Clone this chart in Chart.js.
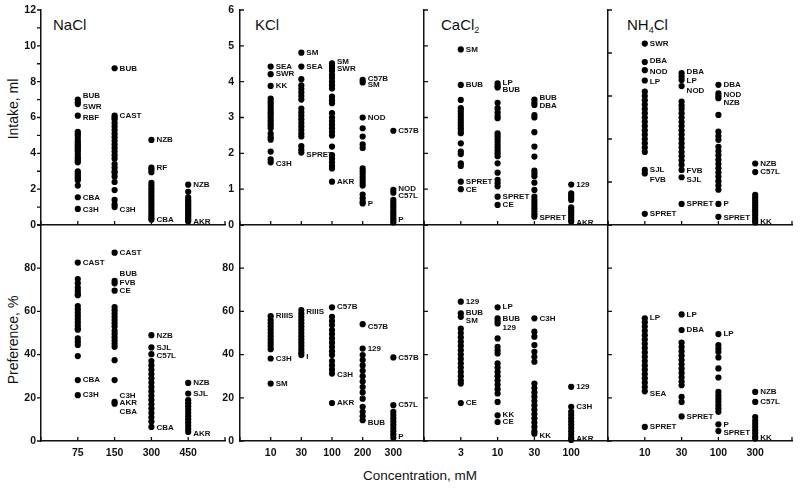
<!DOCTYPE html>
<html>
<head>
<meta charset="utf-8">
<script src="https://cdn.jsdelivr.net/npm/chart.js@4.4.1/dist/chart.umd.min.js"></script>
<style>
  body { margin: 0; background: #fff; }
  #wrap { position: relative; width: 800px; height: 489px; overflow: hidden;
          font-family: "Liberation Sans", Arial, sans-serif; color: #111; }
  #wrap canvas { position: absolute; }
  .ttl { position: absolute; font-size: 15px; line-height: 15px; white-space: nowrap; }
  .ttl sub { font-size: 9px; vertical-align: -3px; line-height: 0; }
  .ax { position: absolute; font-size: 14px; line-height: 14px; white-space: nowrap; }
</style>
</head>
<body>
<div id="wrap">
  <div class="ttl" style="left:53px;top:17px">NaCl</div>
  <div class="ttl" style="left:255px;top:17px">KCl</div>
  <div class="ttl" style="left:441px;top:17px">CaCl<sub>2</sub></div>
  <div class="ttl" style="left:627px;top:17px">NH<sub>4</sub>Cl</div>
  <div class="ax" style="left:13px;top:109px;transform:translate(-50%,-50%) rotate(-90deg)">Intake, ml</div>
  <div class="ax" style="left:13px;top:340px;transform:translate(-50%,-50%) rotate(-90deg)">Preference, %</div>
  <div class="ax" style="left:420px;top:476px;font-size:13.5px;transform:translate(-50%,-50%)">Concentration, mM</div>
</div>
<script>
// concentrations (mM) per salt
const naclConc = ['75', '150', '300', '450'];
const kclConc = ['10', '30', '100', '200', '300'];
const cacl2Conc = ['3', '10', '30', '100'];
const nh4clConc = ['10', '30', '100', '300'];

// intake, one list of strain means per concentration
const naclIntake = [
  [7.0, 6.85, 6.75, 6.1, 5.2, 5.1, 5.0, 4.85, 4.7, 4.6, 4.5, 4.4, 4.3, 4.2, 4.1, 3.95, 3.8, 3.7, 3.6, 3.5, 3.0, 2.9, 2.8, 2.7, 2.6, 2.5, 2.2, 1.55, 0.9],
  [8.75, 6.1, 6.0, 5.9, 5.7, 5.5, 5.3, 5.1, 4.9, 4.7, 4.5, 4.3, 4.1, 3.9, 3.7, 3.4, 3.2, 3.0, 2.9, 2.7, 2.4, 1.95, 1.4, 1.15, 1.0],
  [4.75, 3.2, 3.1, 2.95, 2.35, 2.2, 2.05, 1.9, 1.75, 1.6, 1.45, 1.3, 1.15, 1.0, 0.85, 0.7, 0.55, 0.4, 0.3],
  [2.25, 1.85, 1.55, 1.4, 1.3, 1.2, 1.1, 1.0, 0.9, 0.8, 0.7, 0.6, 0.5, 0.4, 0.3, 0.2]
];
const kclIntake = [
  [4.42, 4.21, 3.88, 3.53, 3.45, 3.38, 3.3, 3.22, 3.15, 3.08, 3.0, 2.92, 2.85, 2.78, 2.7, 2.55, 2.45, 2.38, 2.05, 1.83, 1.75],
  [4.81, 4.42, 4.07, 3.9, 3.8, 3.7, 3.6, 3.5, 3.25, 3.15, 3.05, 2.95, 2.85, 2.75, 2.65, 2.55, 2.47, 2.2, 2.1, 2.02],
  [4.51, 4.45, 4.38, 4.3, 4.19, 4.1, 4.0, 3.9, 3.81, 3.58, 3.48, 3.4, 3.12, 3.0, 2.9, 2.8, 2.7, 2.6, 2.5, 2.19, 1.95, 1.85, 1.75, 1.65, 1.58, 1.21],
  [4.05, 3.98, 3.0, 2.7, 2.47, 2.25, 2.15, 1.58, 1.5, 1.42, 1.34, 1.26, 1.18, 1.1, 0.85, 0.75, 0.65, 0.6],
  [2.63, 0.98, 0.9, 0.7, 0.62, 0.55, 0.48, 0.4, 0.33, 0.26, 0.19, 0.12, 0.07]
];
const cacl2Intake = [
  [4.9, 3.91, 3.49, 3.26, 3.18, 3.1, 3.02, 2.94, 2.86, 2.78, 2.7, 2.62, 2.56, 2.28, 2.05, 1.98, 1.72, 1.65, 1.21, 1.0],
  [3.95, 3.88, 3.84, 3.41, 3.26, 3.15, 3.05, 2.98, 2.56, 2.48, 2.4, 2.32, 2.24, 2.16, 2.08, 2.0, 1.92, 1.72, 1.46, 1.26, 1.17, 1.08, 0.79, 0.56],
  [3.5, 3.42, 3.35, 3.07, 3.0, 2.59, 2.19, 1.91, 1.52, 1.44, 1.36, 1.18, 0.98, 0.79, 0.7, 0.62, 0.54, 0.46, 0.38, 0.3, 0.23],
  [1.13, 0.88, 0.82, 0.76, 0.7, 0.49, 0.42, 0.35, 0.28, 0.21, 0.14, 0.09]
];
const nh4clIntake = [
  [4.22, 3.79, 3.6, 3.36, 3.1, 3.0, 2.9, 2.8, 2.7, 2.6, 2.5, 2.4, 2.3, 2.2, 2.1, 2.0, 1.9, 1.8, 1.7, 1.28, 1.2, 0.26],
  [3.53, 3.45, 3.37, 3.23, 2.87, 2.78, 2.7, 2.6, 2.5, 2.4, 2.3, 2.2, 2.1, 2.0, 1.9, 1.8, 1.7, 1.6, 1.5, 1.4, 1.28, 1.11, 0.49],
  [3.26, 3.06, 3.0, 2.95, 2.56, 2.17, 2.07, 1.98, 1.82, 1.72, 1.62, 1.52, 1.42, 1.32, 1.22, 1.12, 1.02, 0.92, 0.82, 0.49, 0.19],
  [1.43, 1.23, 0.7, 0.64, 0.58, 0.52, 0.46, 0.4, 0.34, 0.28, 0.22, 0.16, 0.1, 0.06]
];

// preference, %
const naclPref = [
  [82.6, 75, 73, 71, 69.5, 68, 67.5, 62.5, 61, 59.5, 58, 56.5, 55, 53.5, 52, 51.5, 47.5, 46, 44.5, 39.3, 28.2, 21.2],
  [87.2, 74.2, 73, 69.6, 62, 60.5, 59, 57.5, 56, 54.5, 53, 51, 49.5, 48, 46.5, 45, 43.6, 37.4, 28.2, 18.1, 17.3],
  [49, 43.3, 40.2, 37, 35, 33, 31, 29, 27, 25, 23, 21, 19, 17, 15, 13, 11, 9, 6.5],
  [26.9, 22, 18.9, 17.5, 16, 14.5, 13, 11.5, 10, 8.5, 7, 5.5, 4.2]
];
const kclPref = [
  [57.8, 56, 54.5, 53, 51.5, 50, 48.5, 47, 45.5, 44, 42.5, 38.2, 26.6],
  [60.6, 59, 57.5, 56, 54.5, 53, 51.5, 50, 48.5, 47, 45.5, 44, 42.5, 41, 39.8],
  [61.9, 57.5, 55.5, 53.7, 51.4, 49.5, 47.5, 45.5, 43.5, 41.5, 39.8, 37, 35, 33, 31.2, 17.6],
  [54.1, 42.8, 39.8, 37.5, 35, 32.5, 30, 27.5, 25, 22.5, 19.6, 15.8, 13.5, 11.5, 9.6],
  [38.7, 16.6, 13.5, 12, 10.5, 9, 7.5, 6, 4.5, 3, 1.5]
];
const cacl2Pref = [
  [64.5, 59.1, 57.5, 52, 50, 48, 46, 44, 42, 40, 38, 36, 34, 32, 30, 28, 26.6, 17.6],
  [61.9, 56.8, 55.5, 54.4, 47.5, 43.6, 42, 40.5, 35.9, 34, 32, 30, 28, 26, 24, 22, 18.1, 11.9, 8.8],
  [56.8, 50.6, 48.3, 44.4, 41.3, 39, 36.7, 26.6, 24.5, 22.5, 20.5, 18.5, 16.5, 14.5, 12.5, 10.5, 8.5, 6.5, 4.5, 3.4],
  [25.1, 15.8, 13.5, 12, 10.5, 9, 7.5, 6, 4.5, 3, 1.5, 0.5]
];
const nh4clPref = [
  [56.8, 55, 53, 51, 49, 47, 45, 43, 41, 39, 37, 35, 33, 31, 29, 27, 25, 23, 6.5],
  [58.6, 51.4, 45.5, 43.5, 41.5, 39.5, 37.5, 35.5, 33.5, 31.5, 29.5, 27.5, 25.8, 20.4, 18.1, 11.4],
  [49.5, 44.4, 42.8, 41.3, 38.7, 33.6, 29.4, 22.7, 21, 19.5, 18, 16.5, 15, 13.5, 7.7, 4.6],
  [22.7, 18.1, 11.1, 9.5, 8, 6.5, 5, 3.5, 2, 1.1]
];

// strain tags: [concentration number (1-based), value, name]
const naclIntakeTags = [[1, 7.2, 'BUB'], [1, 6.57, 'SWR'], [1, 6.0, 'RBF'], [1, 1.54, 'CBA'], [1, 0.84, 'C3H'],
  [2, 8.72, 'BUB'], [2, 6.1, 'CAST'], [2, 0.87, 'C3H'], [3, 4.75, 'NZB'], [3, 3.2, 'RF'], [3, 0.3, 'CBA'],
  [4, 2.25, 'NZB'], [4, 0.2, 'AKR']];
const kclIntakeTags = [[1, 4.42, 'SEA'], [1, 4.21, 'SWR'], [1, 3.88, 'KK'], [1, 1.72, 'C3H'],
  [2, 4.81, 'SM'], [2, 4.42, 'SEA'], [2, 1.95, 'SPRET'], [3, 4.56, 'SM'], [3, 4.35, 'SWR'], [3, 1.21, 'AKR'],
  [4, 4.09, 'C57B'], [4, 3.91, 'SM'], [4, 3.0, 'NOD'], [4, 0.59, 'P'],
  [5, 2.63, 'C57B'], [5, 1.02, 'NOD'], [5, 0.81, 'C57L'], [5, 0.14, 'P']];
const cacl2IntakeTags = [[1, 4.9, 'SM'], [1, 3.91, 'BUB'], [1, 1.21, 'SPRET'], [1, 0.99, 'CE'],
  [2, 3.98, 'LP'], [2, 3.78, 'BUB'], [2, 0.79, 'SPRET'], [2, 0.55, 'CE'],
  [3, 3.55, 'BUB'], [3, 3.33, 'DBA'], [3, 0.19, 'SPRET'], [4, 1.13, '129'], [4, 0.07, 'AKR']];
const nh4clIntakeTags = [[1, 4.22, 'SWR'], [1, 3.82, 'DBA'], [1, 3.57, 'NOD'], [1, 3.34, 'LP'], [1, 1.29, 'SJL'], [1, 1.05, 'FVB'], [1, 0.26, 'SPRET'],
  [2, 3.57, 'DBA'], [2, 3.35, 'LP'], [2, 3.12, 'NOD'], [2, 1.26, 'FVB'], [2, 1.05, 'SJL'], [2, 0.49, 'SPRET'],
  [3, 3.26, 'DBA'], [3, 3.03, 'NOD'], [3, 2.85, 'NZB'], [3, 0.49, 'P'], [3, 0.17, 'SPRET'],
  [4, 1.43, 'NZB'], [4, 1.23, 'C57L'], [4, 0.08, 'KK']];

const naclPrefTags = [[1, 82.5, 'CAST'], [1, 28.2, 'CBA'], [1, 21.2, 'C3H'],
  [2, 87.2, 'CAST'], [2, 77.5, 'BUB'], [2, 73.2, 'FVB'], [2, 69.6, 'CE'], [2, 21, 'C3H'], [2, 17.5, 'AKR'], [2, 13.6, 'CBA'],
  [3, 48.5, 'NZB'], [3, 43.3, 'SJL'], [3, 39.5, 'C57L'], [3, 6, 'CBA'], [4, 26.9, 'NZB'], [4, 22, 'SJL'], [4, 3.5, 'AKR']];
const kclPrefTags = [[1, 57.8, 'RIIIS'], [1, 38, 'C3H'], [1, 26.6, 'SM'], [2, 60, 'RIIIS'], [2, 39, 'I'],
  [3, 61.9, 'C57B'], [3, 30.5, 'C3H'], [3, 17.6, 'AKR'], [4, 53, 'C57B'], [4, 42.8, '129'], [4, 8.5, 'BUB'],
  [5, 38.7, 'C57B'], [5, 16.6, 'C57L'], [5, 2, 'P']];
const cacl2PrefTags = [[1, 64.5, '129'], [1, 59.5, 'BUB'], [1, 55.5, 'SM'], [1, 17.6, 'CE'],
  [2, 61.9, 'LP'], [2, 56.5, 'BUB'], [2, 52.5, '129'], [2, 11.9, 'KK'], [2, 8.8, 'CE'],
  [3, 56.8, 'C3H'], [3, 2.6, 'KK'], [4, 25, '129'], [4, 15.8, 'C3H'], [4, 1, 'AKR']];
const nh4clPrefTags = [[1, 57, 'LP'], [1, 22, 'SEA'], [1, 6.5, 'SPRET'], [2, 58.6, 'LP'], [2, 51.4, 'DBA'], [2, 11.4, 'SPRET'],
  [3, 49.5, 'LP'], [3, 7.7, 'P'], [3, 4, 'SPRET'], [4, 22.7, 'NZB'], [4, 18.1, 'C57L'], [4, 1.5, 'KK']];

const FONT = '"Liberation Sans", Arial, sans-serif';
const YW = 34, PT = 8, PR = 14, XH = 26;

const tagPlugin = {
  id: 'tags',
  afterDatasetsDraw(chart, args, opts) {
    const { ctx } = chart, xs = chart.scales.x, ys = chart.scales.y;
    ctx.save();
    ctx.font = 'bold 8px ' + FONT;
    ctx.fillStyle = '#111';
    ctx.textBaseline = 'middle';
    (opts.list || []).forEach(([c, v, t]) => {
      ctx.fillText(t, xs.getPixelForValue(c) + 5, ys.getPixelForValue(v));
    });
    ctx.restore();
  }
};

// tick marks (inward, or outward for NaCl y) and y tick labels from the scales' ticks
const axisMarks = {
  id: 'axisMarks',
  afterDraw(chart, args, opts) {
    const { ctx, chartArea: a } = chart, xs = chart.scales.x, ys = chart.scales.y;
    ctx.save();
    ctx.strokeStyle = '#111';
    ctx.lineWidth = 1.3;
    ctx.beginPath();
    xs.ticks.forEach(t => {
      const p = xs.getPixelForValue(t.value);
      ctx.moveTo(p, a.bottom); ctx.lineTo(p, a.bottom - 4);
    });
    ys.ticks.forEach(t => {
      const p = ys.getPixelForValue(t.value);
      ctx.moveTo(a.left, p); ctx.lineTo(a.left + (opts.outward ? -4 : 4), p);
    });
    ctx.stroke();
    ctx.font = 'bold 10.5px ' + FONT;
    ctx.fillStyle = '#111';
    ctx.textAlign = 'right';
    ctx.textBaseline = 'middle';
    ys.ticks.forEach(t => {
      if (t.label !== '') ctx.fillText(t.label, a.left - (opts.outward ? 5 : 6), ys.getPixelForValue(t.value));
    });
    ctx.restore();
  }
};

const wrap = document.getElementById('wrap');

function panel(left, top, w, h, conc, cols, tags, yMax, yStep, yShow, xShow, outward) {
  const cv = document.createElement('canvas');
  cv.width = w + YW + PR;
  cv.height = h + PT + XH;
  cv.style.left = (left - YW) + 'px';
  cv.style.top = (top - PT) + 'px';
  wrap.appendChild(cv);

  const points = [];
  cols.forEach((vals, i) => vals.forEach(v => points.push({ x: i + 1, y: v })));

  return new Chart(cv, {
    type: 'scatter',
    data: {
      datasets: [{
        data: points, backgroundColor: '#000', borderWidth: 0,
        pointRadius: 3.1, pointHoverRadius: 3.1, clip: false
      }]
    },
    options: {
      responsive: false,
      animation: false,
      events: [],
      layout: { padding: { top: PT, right: PR, left: 0, bottom: 0 }, autoPadding: false },
      plugins: {
        legend: { display: false }, tooltip: { enabled: false },
        tags: { list: tags }, axisMarks: { outward }
      },
      scales: {
        x: {
          type: 'linear', min: 0, max: conc.length + 1,
          afterFit: s => { s.height = XH; },
          ticks: {
            stepSize: 1, autoSkip: false, maxRotation: 0, padding: 6,
            color: '#111', font: { family: FONT, size: 10.5, weight: 'bold' },
            callback: v => xShow ? (conc[v - 1] || '') : ''
          },
          grid: { drawOnChartArea: false, drawTicks: false },
          border: { color: '#111', width: 1.5 }
        },
        y: {
          min: 0, max: yMax,
          afterFit: s => { s.width = YW; },
          ticks: {
            display: false, stepSize: yStep,
            callback: v => {
              if (yMax === 12 && v % 2 !== 0) return '';
              return (yShow === 'all' || (yShow === 'noTop' && v < yMax)) ? String(v) : '';
            }
          },
          grid: { drawOnChartArea: false, drawTicks: false },
          border: { color: '#111', width: 1.5 }
        }
      }
    },
    plugins: [tagPlugin, axisMarks]
  });
}

// top row: intake
panel(41, 10, 184, 215, naclConc, naclIntake, naclIntakeTags, 12, 1, 'all', false, true);
panel(240, 10, 184, 215, kclConc, kclIntake, kclIntakeTags, 6, 1, 'all', false, false);
panel(424, 10, 184, 215, cacl2Conc, cacl2Intake, cacl2IntakeTags, 6, 1, 'none', false, false);
panel(608, 10, 184, 215, nh4clConc, nh4clIntake, nh4clIntakeTags, 5, 1, 'none', false, false);

// bottom row: preference
panel(41, 225, 184, 216, naclConc, naclPref, naclPrefTags, 100, 20, 'noTop', true, true);
panel(240, 225, 184, 216, kclConc, kclPref, kclPrefTags, 100, 20, 'noTop', true, false);
panel(424, 225, 184, 216, cacl2Conc, cacl2Pref, cacl2PrefTags, 100, 20, 'none', true, false);
panel(608, 225, 184, 216, nh4clConc, nh4clPref, nh4clPrefTags, 100, 20, 'none', true, false);
</script>
</body>
</html>
